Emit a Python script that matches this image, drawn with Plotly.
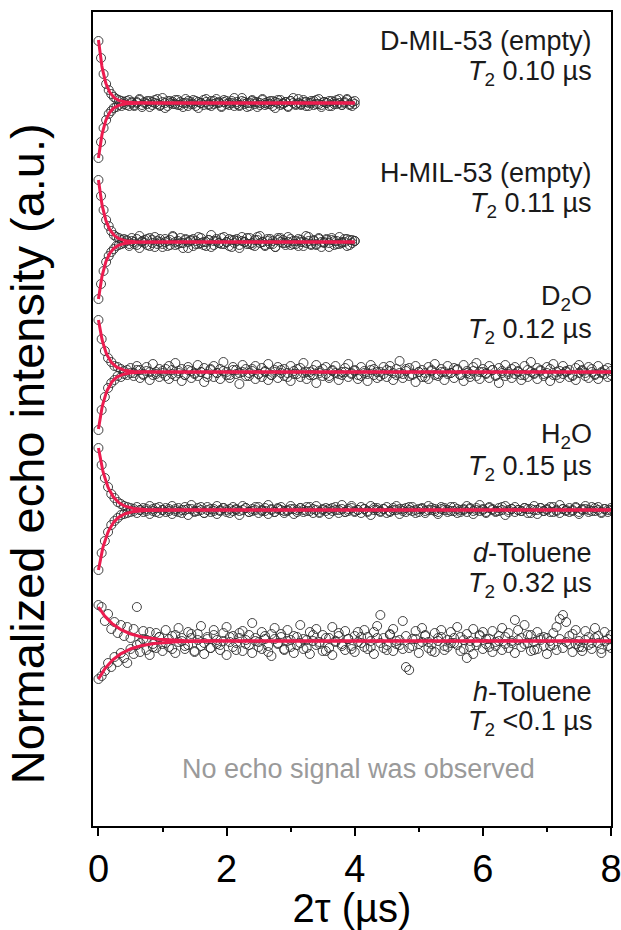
import numpy as np
import plotly.graph_objects as go

# Echo decay curves (2-pulse echo), intensity in a.u. relative to each trace's baseline.
# Sampling: MIL-53 traces 0-4 us, liquid-loaded traces 0-8 us.

dmil_up = [62,45,29,19,13,9,6,4,3,2,
           1,-2,3,0,-3,1,4,-2,0,2,
           -4,1,3,-1,-2,5,0,-3,2,1,
           -1,3,-2,0,4,-3,1,-1,2,-5,
           0,3,1,-2,2,-1,4,0,-3,1,
           2,-2,0,5,-1,-3,2,1,-4,0,
           3,-1,1,-2,4,0,-1,2,-3,1,
           3,-2,0,1,-4,2,5,-1,0,-2,
           3,1,-3,0,2,-1,4,-2,1,0,
           -3,2,-1,3,0,-2,1,4,-1,-3,
           2]
dmil_lo = [-55,-39,-25,-17,-11,-8,-5,-4,-2,-3,
           -1,2,-3,1,-2,0,3,-4,1,-1,
           2,-2,0,4,-3,1,-5,2,0,-1,
           3,-2,1,-4,0,2,-1,3,-3,1,
           0,-2,4,-1,-3,2,0,1,-4,3,
           -1,0,2,-3,1,-2,5,-1,0,-3,
           2,1,-4,0,3,-2,1,-1,2,-5,
           0,3,-1,1,-3,2,0,-2,4,-1,
           1,-3,0,2,-2,3,-1,-4,1,0,
           2,-3,1,-1,4,-2,0,3,-2,1,
           -1]

hmil_up = [62,46,32,22,16,11,7,5,4,2,
           3,1,-2,4,0,-3,6,1,-1,3,
           -4,2,5,-2,0,-5,3,1,-3,6,
           0,-2,4,-1,2,-6,1,3,-2,5,
           -1,0,-4,2,7,-3,1,-1,4,-2,
           0,3,-5,2,1,-3,5,0,-2,4,
           -1,-4,2,6,0,-3,1,3,-2,-5,
           4,0,2,-1,5,-3,1,-2,3,0,
           -4,6,1,-2,2,-3,4,0,-1,3,
           -5,2,1,-2,5,-1,0,3,-3,2,
           1]
hmil_lo = [-57,-42,-29,-20,-14,-10,-7,-4,-3,-2,
           -1,2,-4,1,-2,3,-6,0,2,-3,
           4,-1,-5,1,3,-2,0,-4,2,5,
           -3,1,-1,-6,3,0,2,-4,1,-2,
           4,-3,0,2,-5,1,3,-1,-2,5,
           0,-4,2,-1,3,-6,1,0,4,-2,
           -3,2,5,-1,0,-4,3,-2,1,-5,
           2,4,-1,-3,0,3,-2,1,-4,2,
           0,-1,5,-3,1,-2,3,-5,0,2,
           -1,4,-3,1,-2,0,3,-4,2,-1,
           1]

d2o_up = [52,33,21,14,10,6,5,3,1,2,
          4,-1,6,2,-3,5,0,8,-2,3,
          1,-4,6,2,9,-1,3,-3,5,1,
          -2,7,0,4,-5,2,6,-1,3,10,
          0,-3,5,2,-1,7,3,-4,1,6,
          -2,4,0,8,-3,2,5,-1,3,-5,
          6,1,-2,4,9,0,-3,2,7,-1,
          3,5,-4,1,6,-2,0,4,8,-1,
          2,-3,5,1,-2,7,3,0,-4,5,
          2,6,-1,3,11,-2,1,4,-3,6,
          0,2,-5,5,1,8,-2,3,0,6,
          -1,4,2,-3,7,1,-2,5,9,0,
          3,-1,6,2,-4,4,1,7,-2,3,
          5,0,-3,6,2,10,-1,4,1,-2,
          5,3,8,-3,1,6,0,2,-4,4,
          7,1,-1,5,3,-2,6,0,2,4,
          1]
d2o_lo = [-58,-38,-25,-16,-11,-8,-4,-5,-2,-3,
          -1,-4,2,-6,-2,1,-8,-3,0,-5,
          -1,3,-7,-2,-4,1,-9,-3,2,-6,
          -1,-4,0,-10,-2,3,-5,-1,-7,1,
          -3,-6,2,-2,-12,0,-4,-1,3,-7,
          -2,-5,1,-8,-3,0,-6,2,-4,-1,
          -9,-2,3,-5,-1,-7,0,-3,-11,1,
          -4,-2,-6,2,-1,-8,-3,0,-5,-2,
          1,-7,-4,-1,-9,2,-3,-6,0,-2,
          -5,1,-8,-3,-1,-6,3,-4,-2,-10,
          0,-5,-1,-7,2,-3,-4,0,-8,-2,
          -1,-6,3,-3,-9,-1,-5,1,-4,-7,
          0,-2,-6,2,-3,-11,-1,-4,0,-6,
          -2,1,-8,-3,-5,0,-2,-7,2,-4,
          -1,-9,-3,0,-6,-2,1,-5,-3,-8,
          -1,2,-4,-6,0,-3,-7,-1,-2,-5,
          -3]

h2o_up = [62,45,32,23,16,12,8,6,4,3,
          2,1,3,0,2,-1,4,1,-2,3,
          0,2,-1,4,1,-2,0,3,1,5,
          -1,2,0,-3,3,1,-1,4,0,2,
          -2,1,3,0,-1,4,2,-2,1,0,
          3,-1,2,5,0,-2,1,3,-1,0,
          4,1,-2,2,0,3,-1,1,4,-3,
          0,2,1,-1,3,0,5,-2,1,2,
          -1,0,3,1,-2,4,0,2,-1,1,
          3,-2,0,4,1,-1,2,0,3,-3,
          1,2,-1,4,0,1,-2,3,2,0,
          -1,3,1,-2,0,4,1,-1,2,5,
          0,-2,3,1,-1,2,0,4,-2,1,
          3,0,-1,2,1,-3,4,0,2,-1,
          1,3,-2,0,5,1,-1,2,0,3,
          -2,1,4,0,-1,2,3,-2,1,0,
          2]
h2o_lo = [-60,-43,-31,-22,-15,-11,-8,-5,-4,-3,
          -2,-1,-3,0,-2,1,-4,-1,2,-3,
          0,-2,1,-4,-1,2,-3,0,-5,1,
          -2,-1,3,-3,0,-2,1,-4,-1,2,
          0,-3,-1,1,-5,0,2,-2,-1,3,
          -3,0,-1,-4,1,-2,2,0,-3,-1,
          1,-4,0,2,-2,-1,3,-3,0,-2,
          1,-1,-4,2,0,-3,1,-2,-1,4,
          -2,0,-3,1,-1,-5,2,0,-2,1,
          -3,-1,2,0,-4,1,-2,3,-1,0,
          -2,1,-3,0,2,-1,-4,1,0,-2,
          3,-1,-3,0,1,-2,2,-4,0,-1,
          1,-3,2,0,-2,-1,3,-5,0,1,
          -2,0,-1,2,-3,1,0,-4,2,-1,
          0,-2,3,-1,-3,1,0,-2,-1,2,
          -4,0,1,-2,3,-1,0,-3,1,-2,
          0]

dtol_up = [36,34,20,27,12,19,8,16,5,14,
           3,12,34,-2,10,1,9,-6,8,4,
           -3,11,2,-8,6,13,0,-5,9,3,
           -10,7,15,-2,4,-7,11,1,-4,8,
           14,-1,5,-9,3,10,-3,6,18,0,
           -6,9,2,-11,7,13,-2,4,-8,11,
           1,5,-4,16,2,-7,9,0,12,-3,
           6,-10,3,14,-1,8,-5,10,2,-8,
           5,9,-2,11,4,-6,9,15,26,3,
           -9,7,12,0,-4,20,5,-7,2,10,
           -3,13,6,-1,-10,8,3,11,-5,1,
           9,-2,14,4,-8,7,0,12,-4,6,
           9,2,-6,10,-1,5,13,-3,8,0,
           21,11,3,16,-2,6,-9,9,1,4,
           3,-5,8,14,22,26,19,-3,7,11,
           0,-6,10,4,-2,13,5,-8,9,2,
           6]
dtol_lo = [-38,-35,-30,-22,-26,-16,-21,-12,-17,-22,
           -8,-13,-4,-11,2,-9,-14,-3,-7,4,
           -10,-2,-6,5,-12,-1,3,-8,-4,7,
           -11,1,-5,-13,2,-7,6,-3,-9,0,
           -14,4,-6,-2,8,-10,1,-4,-12,3,
           -1,-8,5,-5,-15,2,-3,7,-9,0,
           -6,-12,4,-2,-8,1,-13,6,-4,-1,
           -10,3,-7,-14,0,5,-3,-9,2,-5,
           -11,-1,4,-6,-8,0,-13,3,-2,-7,
           -4,6,-10,-3,1,-8,-26,-29,-5,2,
           -12,-1,5,-7,-3,-11,0,4,-9,-6,
           -2,3,-4,-10,1,-17,-6,-13,-1,5,
           -8,-3,2,-11,-5,0,-9,4,-7,-2,
           -12,1,-6,-3,6,-10,-1,-8,3,-5,
           -13,0,-4,-9,2,-7,-1,5,-11,-3,
           -6,-10,1,-4,-8,3,-2,-12,0,-5,
           -7]

# per-sample settings: label, T2 text, T2 (us), stacking offset, time span (us),
# upper/lower data and fitted amplitudes (upper, lower)
samples  = ["D-MIL-53 (empty)", "H-MIL-53 (empty)", "D<sub>2</sub>O", "H<sub>2</sub>O", "<i>d</i>-Toluene"]
t2_text  = ["0.10", "0.11", "0.12", "0.15", "0.32"]
t2_us    = [0.10, 0.11, 0.12, 0.15, 0.32]
offsets  = [723, 584, 454, 316, 185]
t_max    = [4, 4, 8, 8, 8]
upper    = [dmil_up, hmil_up, d2o_up, h2o_up, dtol_up]
lower    = [dmil_lo, hmil_lo, d2o_lo, h2o_lo, dtol_lo]
amp_up   = [63, 62, 52, 62, 34]
amp_lo   = [-55, -57, -57, -60, -38]

# label centre heights (y, in axis units) for the two text lines of each sample
label_y  = [(785, 753), (653, 621), (528, 495), (390, 358), (273, 241)]

FONT = "Arial, Liberation Sans, sans-serif"
FIT_COLOR = "#EC1C4F"
TEXT_COLOR = "#1a1a1a"
LABEL_X = 0.968

fig = go.Figure()

for i in range(len(samples)):
    for branch in (upper[i], lower[i]):
        t = np.linspace(0, t_max[i], len(branch))
        fig.add_trace(go.Scatter(
            x=t, y=np.array(branch) + offsets[i], mode="markers",
            marker=dict(symbol="circle", size=9, color="rgba(255,255,255,0)",
                        line=dict(color="#2e2e2e", width=0.9)),
            hoverinfo="skip"))

for i in range(len(samples)):
    t = np.linspace(0, t_max[i], 600)
    for a in (amp_up[i], amp_lo[i]):
        fig.add_trace(go.Scatter(
            x=t, y=offsets[i] + a * np.exp(-t / t2_us[i]), mode="lines",
            line=dict(color=FIT_COLOR, width=3), hoverinfo="skip"))


def label(text, y, size=27, color=TEXT_COLOR):
    return dict(text=text, x=LABEL_X, y=y, xref="paper", yref="y",
                xanchor="right", yanchor="middle", showarrow=False,
                font=dict(size=size, color=color, family=FONT))


annotations = []
for i in range(len(samples)):
    y1, y2 = label_y[i]
    annotations.append(label(samples[i], y1))
    annotations.append(label("<i>T</i><sub>2</sub> " + t2_text[i] + " µs", y2))

annotations.append(label("<i>h</i>-Toluene", 134))
annotations.append(label("<i>T</i><sub>2</sub> &lt;0.1 µs", 103))
annotations.append(dict(text="No echo signal was observed", x=0.512, y=57, xref="paper", yref="y",
                        xanchor="center", yanchor="middle", showarrow=False,
                        font=dict(size=27, color="#9a9a9a", family=FONT)))
annotations.append(dict(text="Normalized echo intensity (a.u.)", x=-0.127, y=0.457,
                        xref="paper", yref="paper", xanchor="center", yanchor="middle",
                        textangle=-90, showarrow=False,
                        font=dict(size=47, color="black", family=FONT)))

fig.update_layout(
    width=621, height=930,
    margin=dict(l=93, r=10, t=12, b=104, autoexpand=False),
    plot_bgcolor="white", paper_bgcolor="white",
    showlegend=False,
    font=dict(family=FONT, color="black"),
    annotations=annotations,
)

fig.update_xaxes(
    range=[-0.085, 8.0], tickvals=[0, 2, 4, 6, 8], ticks="outside", ticklen=8, tickwidth=2,
    tickcolor="black", tickfont=dict(size=38, family=FONT), ticklabeloverflow="allow",
    minor=dict(tickvals=[1, 3, 5, 7], ticks="outside", ticklen=4, tickwidth=2, tickcolor="black"),
    showline=True, linewidth=2, linecolor="black", mirror=True,
    showgrid=False, zeroline=False, automargin=False,
    title=dict(text="2τ (µs)", font=dict(size=40, family=FONT), standoff=2),
)
fig.update_yaxes(
    range=[0, 814], showticklabels=False, ticks="",
    showline=True, linewidth=2, linecolor="black", mirror=True,
    showgrid=False, zeroline=False, automargin=False,
)

fig.write_html("out.html")
